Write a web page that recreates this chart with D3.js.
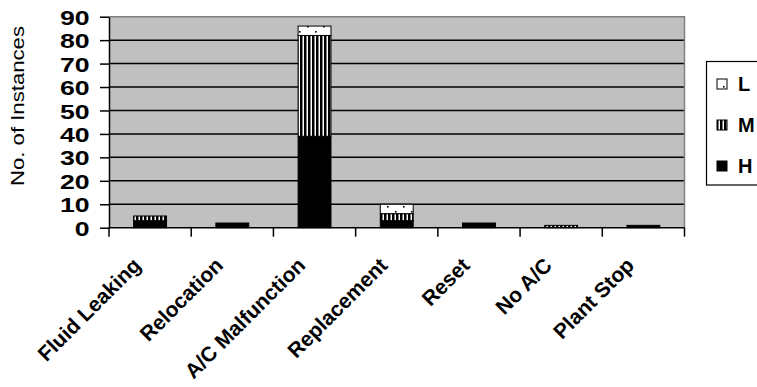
<!DOCTYPE html>
<html><head><meta charset="utf-8">
<script src="https://cdn.jsdelivr.net/npm/d3@7"></script>
<style>body{margin:0;background:#fff}svg{display:block}text{font-family:Arial,"Liberation Sans",sans-serif}</style>
</head><body><svg id="c" width="757" height="387"></svg>
<script>
const categories = ["Fluid Leaking","Relocation","A/C Malfunction","Replacement","Reset","No A/C","Plant Stop"];
const seriesNames = ["H","M","L"];
const valuesH = [3,2,39,3,2,0,1];
const valuesM = [2,0,43,3,0,1,0];
const valuesL = [0,0,4,4,0,0,0];
const yTicks = [0,10,20,30,40,50,60,70,80,90];
const legendOrder = ["L","M","H"];

(function(){
const svg = d3.select("#c");
const defs = svg.append("defs");
const pM = defs.append("pattern").attr("id","pM").attr("patternUnits","userSpaceOnUse").attr("width",4).attr("height",4);
pM.append("rect").attr("width",4).attr("height",4).attr("fill","#fff");
pM.append("rect").attr("width",2.5).attr("height",4).attr("fill","#000");
const pL = defs.append("pattern").attr("id","pL").attr("patternUnits","userSpaceOnUse").attr("width",16).attr("height",10);
pL.append("rect").attr("width",16).attr("height",10).attr("fill","#fff");
pL.append("rect").attr("x",3).attr("y",6).attr("width",1.6).attr("height",1.6).attr("fill","#000");
pL.append("rect").attr("x",11).attr("y",1).attr("width",1.6).attr("height",1.6).attr("fill","#000");
const fills = {H:"#000", M:"url(#pM)", L:"url(#pL)"};

const pLeft=109, pRight=684.5, pTop=16.7, pBottom=227.7;
const x = d3.scaleBand().domain(categories).range([pLeft,pRight]).paddingInner(0.6).paddingOuter(0.3);
const y = d3.scaleLinear().domain([0,90]).range([pBottom,pTop]);

svg.append("rect").attr("x",pLeft).attr("y",pTop).attr("width",pRight-pLeft).attr("height",pBottom-pTop).attr("fill","#c0c0c0");
svg.append("g").selectAll("line").data(yTicks.filter(d=>d>0 && d<90)).join("line")
  .attr("x1",pLeft).attr("x2",pRight).attr("y1",d=>y(d)).attr("y2",d=>y(d))
  .attr("stroke","#000").attr("stroke-width",1.5);
svg.append("path").attr("d",`M${pLeft},${y(90)}H${pRight}V${pBottom}`).attr("fill","none").attr("stroke","#808080").attr("stroke-width",1.5);

const rows = categories.map((c,i)=>({cat:c,H:valuesH[i],M:valuesM[i],L:valuesL[i]}));
const stack = d3.stack().keys(seriesNames)(rows);
stack.forEach(layer=>{
  svg.append("g").selectAll("rect").data(layer.filter(d=>d[1]-d[0]>0)).join("rect")
    .attr("x",d=>x(d.data.cat)).attr("width",x.bandwidth())
    .attr("y",d=>y(d[1])).attr("height",d=>y(d[0])-y(d[1]))
    .attr("fill",fills[layer.key]).attr("stroke","#000").attr("stroke-width",1);
});

const ya = svg.append("g").attr("transform",`translate(${pLeft},0)`)
  .call(d3.axisLeft(y).tickValues(yTicks).tickSize(9).tickSizeOuter(0));
ya.select(".domain").attr("stroke","#000").attr("stroke-width",1.5);
ya.selectAll(".tick line").attr("stroke","#000").attr("stroke-width",1.5);
ya.selectAll(".tick text").attr("x",-15.2).attr("dy","0.36em").attr("transform","scale(1.27,1)")
  .attr("font-size",21).attr("font-weight","bold").attr("fill","#000");

const xa = svg.append("g").attr("transform",`translate(0,${pBottom})`);
xa.append("line").attr("x1",pLeft).attr("x2",pRight).attr("stroke","#000").attr("stroke-width",1.5);
const step = x.step();
xa.selectAll("line.t").data(d3.range(categories.length+1)).join("line").attr("class","t")
  .attr("x1",i=>pLeft+i*step).attr("x2",i=>pLeft+i*step).attr("y1",0).attr("y2",9)
  .attr("stroke","#000").attr("stroke-width",1.5);
svg.append("g").selectAll("text").data(categories).join("text")
  .attr("transform",d=>`translate(${x(d)+x.bandwidth()/2-8},${pBottom+39}) rotate(-45)`)
  .attr("text-anchor","end").attr("font-size",21).attr("font-weight","bold").attr("fill","#000")
  .text(d=>d);

svg.append("text").attr("transform",`translate(24,106) rotate(-90)`).attr("text-anchor","middle")
  .attr("font-size",18).attr("fill","#000").attr("textLength",160).attr("lengthAdjust","spacingAndGlyphs")
  .text("No.  of  Instances");

const lg = svg.append("g");
lg.append("rect").attr("x",706.5).attr("y",61.5).attr("width",70).attr("height",123.5).attr("fill","#fff").attr("stroke","#000").attr("stroke-width",1.2);
const ly = d3.scalePoint().domain(legendOrder).range([84,166]);
legendOrder.forEach(k=>{
  lg.append("rect").attr("x",717).attr("y",ly(k)-5).attr("width",10).attr("height",10)
    .attr("fill",fills[k]).attr("stroke","#000").attr("stroke-width",1);
  lg.append("text").attr("x",738).attr("y",ly(k)).attr("dy","0.36em").attr("font-size",20).attr("font-weight","bold").attr("fill","#000").text(k);
});
})();
</script></body></html>
